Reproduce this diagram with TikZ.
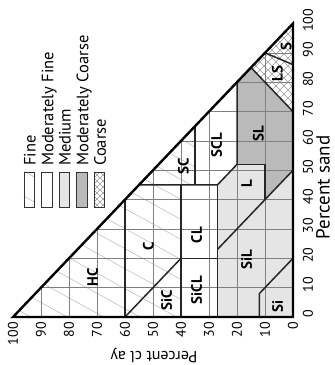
\documentclass[tikz,border=0pt]{standalone}
\usepackage{fontspec}
\setmainfont{PT Sans}
\begin{document}
\begin{tikzpicture}[x=1pt,y=-1pt,
  grid/.style={draw=black!50, line width=0.55pt},
  bound/.style={draw=black!85, line width=1.5pt, line join=miter},
  frame/.style={draw=black, line width=2.4pt, line join=miter},
  hatch/.style={draw=black!28, line width=0.5pt},
  xhatch/.style={draw=black!40, line width=0.5pt},
  medfill/.style={fill=black!10},
  mcfill/.style={fill=black!27},
  cls/.style={font=\fontsize{15}{15}\selectfont\bfseries, rotate=90, inner sep=0pt},
  tick/.style={font=\fontsize{14}{14}\selectfont, rotate=90, inner sep=0pt},
  legtext/.style={font=\fontsize{16.5}{16.5}\selectfont, rotate=90, anchor=mid west, inner sep=0pt},
  legbox/.style={draw=black!80, line width=0.8pt, minimum width=10.3pt, minimum height=35.4pt, inner sep=0pt}
]
\useasboundingbox (0,0) rectangle (335,365);

% ---------- texture triangle: (clay %, sand %) ----------
\begin{scope}[shift={(293pt,-317pt)}, x={(-2.8pt,0pt)}, y={(0pt,2.935pt)}]
  \coordinate (A) at (100,0);
  \coordinate (O) at (0,0);
  \coordinate (T) at (0,100);

  % class groups
  \fill[medfill] (27,0) -- (0,0) -- (0,50) -- (10,40) -- (10,52) -- (20,52) -- (27,45) -- cycle;
  \fill[mcfill] (20,52) -- (20,80) -- (15,85) -- (0,70) -- (0,50) -- (10,40) -- (10,52) -- cycle;

  % fine group: light diagonal hatching
  \begin{scope}
    \clip (100,0) -- (40,0) -- (40,45) -- (35,45) -- (35,65) -- cycle;
    \begin{scope}[shift={(-293pt,317pt)}, x=1pt, y=-1pt]
      \foreach \k in {-2,...,17}
        \draw[hatch] (0,\k*20) -- (335,\k*20+184);
    \end{scope}
  \end{scope}

  % coarse group: cross hatching
  \begin{scope}
    \clip (15,85) -- (0,100) -- (0,70) -- cycle;
    \begin{scope}[shift={(-293pt,317pt)}, x=1pt, y=-1pt]
      \foreach \k in {0,...,50} {
        \draw[xhatch] (230,\k*8-240) -- (300,\k*8-170);
        \draw[xhatch] (230,\k*8-100) -- (300,\k*8-170);
      }
    \end{scope}
  \end{scope}

  % grid
  \foreach \i in {10,20,...,90} {
    \pgfmathtruncatemacro\j{100-\i}
    \draw[grid] (\i,0) -- (\i,\j);
    \draw[grid] (0,\i) -- (\j,\i);
  }

  % class boundaries
  \draw[bound] (60,0) -- (60,40);
  \draw[bound] (60,0) -- (40,20);
  \draw[bound] (40,0) -- (40,45);
  \draw[bound] (55,45) -- (27,45) -- (20,52) -- (20,80);
  \draw[bound] (35,45) -- (35,65);
  \draw[bound] (40,20) -- (27,20);
  \draw[bound] (27,0) -- (27,45);
  \draw[bound] (20,52) -- (10,52) -- (10,40);
  \draw[bound] (27,23) -- (0,50);
  \draw[bound] (12,0) -- (12,8) -- (0,20);
  \draw[bound] (15,85) -- (0,70);
  \draw[bound] (10,90) -- (0,86);

  % outline
  \draw[frame] (A) -- (O) -- (T) -- cycle;
\end{scope}

% ---------- class labels ----------
\node[cls] (hc)   at (92.5,277) {HC};
\node[cls] (c)    at (148.3,246.7) {C};
\node[cls] (sic)  at (166.7,300) {SiC};
\node[cls] (sicl) at (196.7,290) {SiCL};
\node[cls] (cl)   at (196.7,235) {CL};
\node[cls] (sc)   at (183.3,166.7) {SC};
\node[cls] (scl)  at (216.7,145) {SCL};
\node[cls] (sl)   at (258.3,133.3) {SL};
\node[cls] (l)    at (246.7,183.3) {L};
\node[cls] (sil)  at (246.7,260) {SiL};
\node[cls] (si)   at (277.7,306.7) {Si};
\node[cls] (ls)   at (277.3,73.3) {LS};
\node[cls] (s)    at (286,47) {S};

% ---------- axis ticks ----------
\foreach \v in {0,10,...,100} {
  \pgfmathsetmacro\xx{293-2.8*\v}
  \pgfmathsetmacro\yy{317-2.935*\v-3}
  \node[tick, anchor=east] (clay\v) at (\xx,322) {\v};
  \node[tick] (sand\v) at (308,\yy) {\v};
}
\node[font=\fontsize{19}{19}\selectfont, rotate=90, inner sep=0pt] (sandtitle) at (323,187.5) {Percent sand};
\node[font=\fontsize{16}{16}\selectfont, rotate=180, inner sep=0pt] (claytitle) at (154,356) {Percent cl ay};

% ---------- legend ----------
\node[legbox] (kfine) at (29.2,190) {};
\begin{scope}
  \clip (kfine.south west) rectangle (kfine.north east);
  \draw[hatch] (22,170) -- (36,178);
  \draw[hatch] (22,195) -- (36,203);
\end{scope}
\node[legbox] (kfine) at (29.2,190) {};
\node[legbox] (kmfine) at (46.8,190) {};
\node[legbox, fill=black!10] (kmed) at (64.2,190) {};
\node[legbox, fill=black!27] (kmc) at (81.8,190) {};
\begin{scope}
  \clip (94.3,172.3) rectangle (104.7,207.7);
  \foreach \k in {0,...,12} {
    \draw[xhatch] (90,\k*6+150) -- (110,\k*6+170);
    \draw[xhatch] (90,\k*6+170) -- (110,\k*6+150);
  }
\end{scope}
\node[legbox] (kcoarse) at (99.5,190) {};

\node[legtext] (tfine)   at (33.2,166) {Fine};
\node[legtext] (tmfine)  at (50.8,166) {Moderately Fine};
\node[legtext] (tmed)    at (68.2,166) {Medium};
\node[legtext] (tmc)     at (85.8,166) {Moderately Coarse};
\node[legtext] (tcoarse) at (103.5,166) {Coarse};
\end{tikzpicture}
\end{document}
